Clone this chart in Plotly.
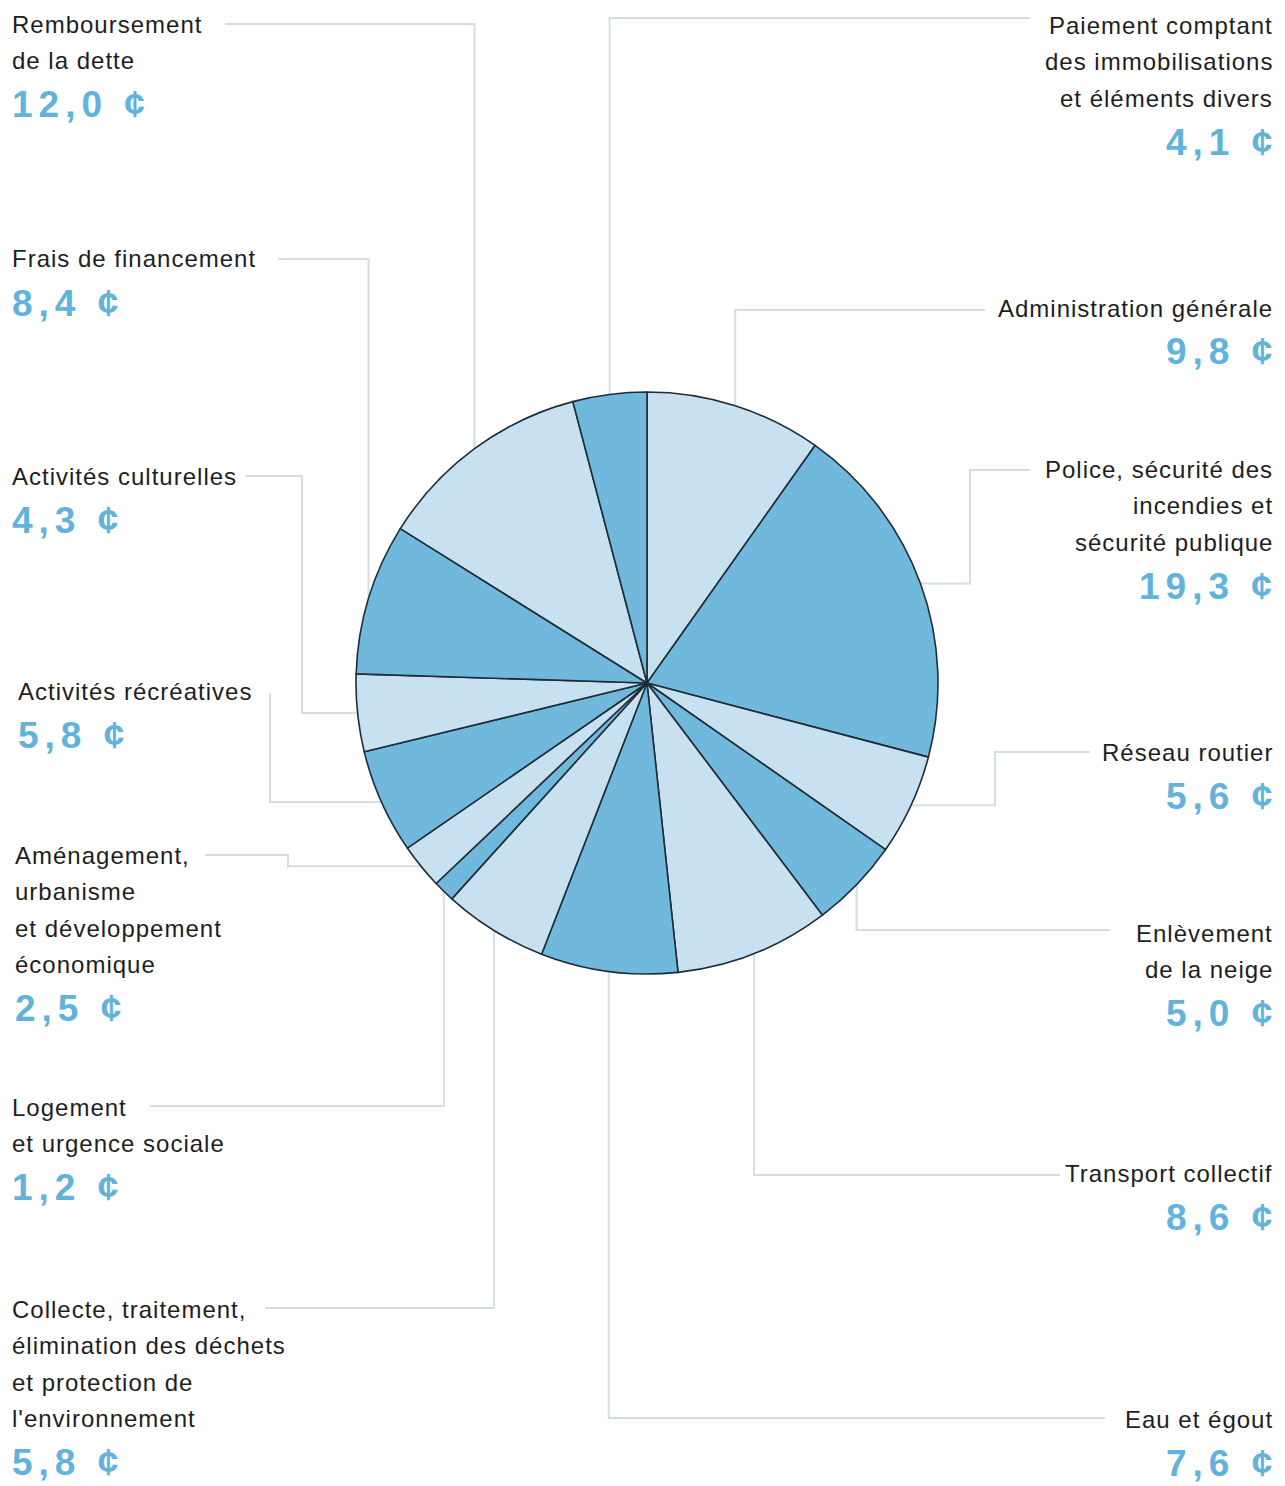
import math
import plotly.graph_objects as go

# ---- data (clockwise from 12 o'clock) ----
categories = [
    "Administration générale", "Police, sécurité des incendies et sécurité publique",
    "Réseau routier", "Enlèvement de la neige", "Transport collectif", "Eau et égout",
    "Collecte, traitement, élimination des déchets et protection de l'environnement",
    "Logement et urgence sociale",
    "Aménagement, urbanisme et développement économique",
    "Activités récréatives", "Activités culturelles", "Frais de financement",
    "Remboursement de la dette",
    "Paiement comptant des immobilisations et éléments divers",
]
values = [9.8, 19.3, 5.6, 5.0, 8.6, 7.6, 5.8, 1.2, 2.5, 5.8, 4.3, 8.4, 12.0, 4.1]
label_lines = [
    ["Administration générale"],
    ["Police, sécurité des", "incendies et", "sécurité publique"],
    ["Réseau routier"],
    ["Enlèvement", "de la neige"],
    ["Transport collectif"],
    ["Eau et égout"],
    ["Collecte, traitement,", "élimination des déchets", "et protection de", "l'environnement"],
    ["Logement", "et urgence sociale"],
    ["Aménagement,", "urbanisme", "et développement", "économique"],
    ["Activités récréatives"],
    ["Activités culturelles"],
    ["Frais de financement"],
    ["Remboursement", "de la dette"],
    ["Paiement comptant", "des immobilisations", "et éléments divers"],
]

# ---- layout / styling (pixels) ----
W, H = 1285, 1486
CX, CY, R = 647, 683, 291
LIGHT, DARK = "#c7e1f0", "#70b9dd"
slice_colors = [LIGHT if i % 2 == 0 else DARK for i in range(len(values))]
LINE_COLOR = "#d3dfe4"
TEXT_COLOR = "#1e1e1e"
VALUE_COLOR = "#62b3dc"
LINE_GAP = 36.5

# side, text x, first-line y, leader start (x, y), elbow x (None = straight vertical)
label_layout = [
    ("right", 1275, 308, (985, 310), None),
    ("right", 1275, 469, (1030, 470), 970),
    ("right", 1275, 752, (1090, 752), 995),
    ("right", 1275, 933, (1110, 930), None),
    ("right", 1275, 1173, (1060, 1175), None),
    ("right", 1275, 1419, (1105, 1418), None),
    ("left", 10, 1309, (265, 1308), None),
    ("left", 10, 1107, (150, 1106), None),
    ("left", 13, 855, (205, 855), 288),
    ("left", 16, 691, (270, 693), 270),
    ("left", 10, 476, (245, 476), 302),
    ("left", 10, 259, (278, 259), None),
    ("left", 10, 24, (225, 24), None),
    ("right", 1275, 25, (1030, 18), None),
]


def px(x):
    return x / W


def py(y):
    return 1 - y / H


fig = go.Figure()
fig.add_trace(go.Pie(
    labels=categories, values=values, sort=False, direction="clockwise", rotation=0,
    marker=dict(colors=slice_colors, line=dict(color="#1f2d36", width=1.6)),
    textinfo="none", hoverinfo="label+value", showlegend=False,
    domain=dict(x=[px(CX - R), px(CX + R)], y=[py(CY + R), py(CY - R)]),
))

total = sum(values)
cum = 0.0
shapes, annotations = [], []
for i, v in enumerate(values):
    theta = 2 * math.pi * (cum + v / 2) / total
    cum += v
    ax = CX + R * math.sin(theta)
    ay = CY - R * math.cos(theta)
    side, tx, ty, (sx, sy), elbow = label_layout[i]
    if elbow is None:
        pts = [(sx, sy), (ax, sy), (ax, ay)]
    else:
        pts = [(sx, sy), (elbow, sy), (elbow, ay), (ax, ay)]
    path = "M " + " L ".join(f"{px(x):.5f},{py(y):.5f}" for x, y in pts)
    shapes.append(dict(type="path", xref="paper", yref="paper", path=path,
                       line=dict(color=LINE_COLOR, width=2), layer="below"))
    anchor = "left" if side == "left" else "right"
    for k, line in enumerate(label_lines[i]):
        annotations.append(dict(
            x=px(tx), y=py(ty + k * LINE_GAP), xref="paper", yref="paper",
            text=f"<span style='letter-spacing:1px'>{line}</span>",
            showarrow=False, xanchor=anchor, yanchor="middle",
            font=dict(family="Liberation Sans, Arial, sans-serif", size=24, color=TEXT_COLOR),
        ))
    vy = ty + (len(label_lines[i]) - 1) * LINE_GAP + 44
    vtxt = f"{v:.1f}".replace(".", ",") + " ¢"
    vx = tx if side == "left" else tx + 5
    annotations.append(dict(
        x=px(vx), y=py(vy), xref="paper", yref="paper",
        text=f"<b><span style='letter-spacing:6px'>{vtxt}</span></b>",
        showarrow=False, xanchor=anchor, yanchor="middle",
        font=dict(family="Liberation Sans, Arial, sans-serif", size=37, color=VALUE_COLOR),
    ))

fig.update_layout(
    width=W, height=H, margin=dict(l=0, r=0, t=0, b=0),
    paper_bgcolor="white", plot_bgcolor="white",
    shapes=shapes, annotations=annotations,
)
fig.write_html("out.html", config={"displayModeBar": False},
               post_script="document.body.style.margin='0px';")
